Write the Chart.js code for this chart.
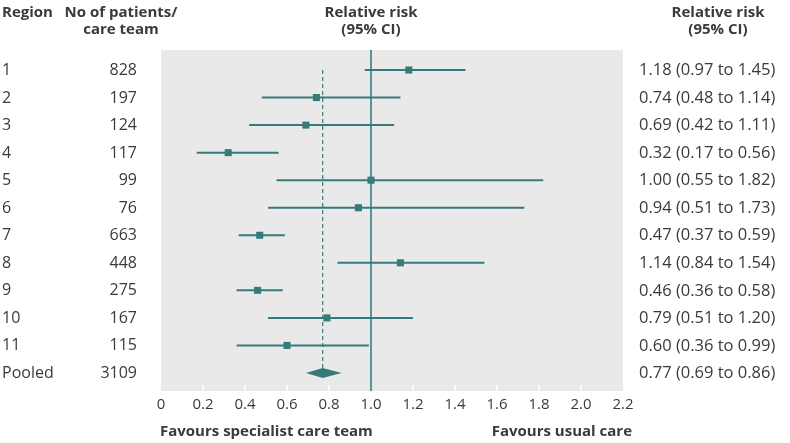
<!DOCTYPE html>
<html>
<head>
<meta charset="utf-8">
<script src="https://cdn.jsdelivr.net/npm/chart.js@4"></script>
<style>
  html, body { margin: 0; padding: 0; background: #fff; }
  #wrap { width: 790px; height: 443px; position: relative; }
</style>
</head>
<body>
<div id="wrap"><canvas id="chart"></canvas></div>
<script>
const regions = ["1", "2", "3", "4", "5", "6", "7", "8", "9", "10", "11", "Pooled"];
const patients = [828, 197, 124, 117, 99, 76, 663, 448, 275, 167, 115, 3109];
const riskEst = [1.18, 0.74, 0.69, 0.32, 1.00, 0.94, 0.47, 1.14, 0.46, 0.79, 0.60, 0.77];
const riskLow = [0.97, 0.48, 0.42, 0.17, 0.55, 0.51, 0.37, 0.84, 0.36, 0.51, 0.36, 0.69];
const riskHigh = [1.45, 1.14, 1.11, 0.56, 1.82, 1.73, 0.59, 1.54, 0.58, 1.20, 0.99, 0.86];
const xTicks = [0, 0.2, 0.4, 0.6, 0.8, 1.0, 1.2, 1.4, 1.6, 1.8, 2.0, 2.2];

const TEAL = "#367b7b";
const TEXT = "#3a3a3a";
const FONT = "'Open Sans', sans-serif";

const pooledIdx = regions.length - 1;
const fmt = v => v.toFixed(2);

// squares for each region (pooled is drawn as a diamond)
const pointData = riskEst.slice(0, pooledIdx).map((v, i) => ({ x: v, y: i }));

const forestPlugin = {
  id: "forest",
  beforeDatasetsDraw(chart) {
    const { ctx, chartArea: a, scales: { x, y } } = chart;
    ctx.save();
    ctx.fillStyle = "#e9e9e9";
    ctx.fillRect(a.left, a.top, a.right - a.left, a.bottom - a.top);

    // small white tick marks along the bottom edge
    ctx.strokeStyle = "#ffffff";
    ctx.lineWidth = 1.5;
    xTicks.slice(1, -1).forEach(t => {
      const px = x.getPixelForValue(t);
      ctx.beginPath();
      ctx.moveTo(px, a.bottom);
      ctx.lineTo(px, a.bottom - 6);
      ctx.stroke();
    });

    // line of no effect
    ctx.strokeStyle = "#5a9595";
    ctx.lineWidth = 2;
    const one = x.getPixelForValue(1);
    ctx.beginPath();
    ctx.moveTo(one, a.top);
    ctx.lineTo(one, a.bottom);
    ctx.stroke();

    // pooled estimate dashed line
    const pooledX = x.getPixelForValue(riskEst[pooledIdx]);
    ctx.strokeStyle = TEAL;
    ctx.lineWidth = 1.2;
    ctx.setLineDash([4, 3]);
    ctx.beginPath();
    ctx.moveTo(pooledX, y.getPixelForValue(0));
    ctx.lineTo(pooledX, y.getPixelForValue(pooledIdx) - 5);
    ctx.stroke();
    ctx.setLineDash([]);

    // confidence intervals
    ctx.strokeStyle = TEAL;
    ctx.lineWidth = 2;
    for (let i = 0; i < pooledIdx; i++) {
      const py = y.getPixelForValue(i);
      ctx.beginPath();
      ctx.moveTo(x.getPixelForValue(riskLow[i]), py);
      ctx.lineTo(x.getPixelForValue(riskHigh[i]), py);
      ctx.stroke();
    }

    // pooled diamond
    const dy = y.getPixelForValue(pooledIdx);
    ctx.fillStyle = TEAL;
    ctx.beginPath();
    ctx.moveTo(x.getPixelForValue(riskLow[pooledIdx]), dy);
    ctx.lineTo(pooledX, dy - 5);
    ctx.lineTo(x.getPixelForValue(riskHigh[pooledIdx]), dy);
    ctx.lineTo(pooledX, dy + 5);
    ctx.closePath();
    ctx.fill();
    ctx.restore();
  },
  afterDraw(chart) {
    const { ctx, scales: { y } } = chart;
    ctx.save();
    ctx.fillStyle = TEXT;

    // headers
    ctx.font = "bold 15px " + FONT;
    ctx.textBaseline = "alphabetic";
    ctx.textAlign = "left";
    ctx.fillText("Region", 2, 17);
    ctx.textAlign = "center";
    ctx.fillText("No of patients/", 121, 17);
    ctx.fillText("care team", 121, 34);
    ctx.fillText("Relative risk", 371, 17);
    ctx.fillText("(95% CI)", 371, 34);
    ctx.fillText("Relative risk", 718, 17);
    ctx.fillText("(95% CI)", 718, 34);

    // footer
    ctx.textBaseline = "middle";
    ctx.textAlign = "left";
    ctx.fillText("Favours specialist care team", 160, 432);
    ctx.textAlign = "right";
    ctx.fillText("Favours usual care", 632, 432);

    // row texts
    regions.forEach((r, i) => {
      const py = y.getPixelForValue(i) + 0.5;
      ctx.font = "16px " + FONT;
      ctx.textAlign = "left";
      ctx.fillText(r, 2, py);
      ctx.textAlign = "right";
      ctx.fillText(String(patients[i]), 137, py);
      ctx.font = "16.5px " + FONT;
      ctx.textAlign = "left";
      ctx.fillText(fmt(riskEst[i]) + " (" + fmt(riskLow[i]) + " to " + fmt(riskHigh[i]) + ")", 639, py);
    });
    ctx.restore();
  }
};

new Chart(document.getElementById("chart"), {
  type: "scatter",
  data: {
    datasets: [{
      data: pointData,
      pointStyle: "rect",
      pointRadius: 5,
      pointHoverRadius: 5,
      backgroundColor: TEAL,
      borderColor: TEAL,
      borderWidth: 0
    }]
  },
  options: {
    responsive: true,
    maintainAspectRatio: false,
    animation: false,
    events: [],
    layout: { padding: { left: 161, right: 167, top: 50, bottom: 22 } },
    plugins: { legend: { display: false }, tooltip: { enabled: false } },
    scales: {
      x: {
        type: "linear",
        min: 0,
        max: 2.2,
        afterBuildTicks: s => { s.ticks = xTicks.map(v => ({ value: v })); },
        afterFit: s => { s.height = 30; },
        grid: { display: false, drawTicks: false },
        border: { display: false },
        ticks: {
          padding: 5,
          color: TEXT,
          font: { family: FONT, size: 15 },
          maxRotation: 0,
          autoSkip: false,
          callback: v => (v === 0 ? "0" : v.toFixed(1))
        }
      },
      y: {
        type: "linear",
        display: false,
        reverse: true,
        min: -0.727,
        max: 11.655
      }
    }
  },
  plugins: [forestPlugin]
});
</script>
</body>
</html>
